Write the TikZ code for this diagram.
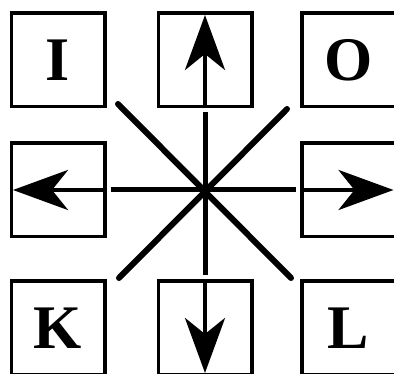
\documentclass[tikz,border=0pt]{standalone}
\usepackage{fontspec}
\setmainfont{Liberation Serif}
\usetikzlibrary{arrows.meta,positioning}
\tikzset{
  key/.style={draw, line width=3.5pt, minimum size=93.5pt, inner sep=0pt,
              font=\fontsize{62}{62}\selectfont\bfseries},
  dirarrow/.style={-{Stealth[length=55pt,width=40pt,inset=16pt]}, line width=4.5pt,
                   shorten >=3.5pt},
  link/.style={line width=5pt, shorten >=4pt},
  diag/.style={line width=6pt, line cap=round}
}

\begin{document}
\begin{tikzpicture}[x=1pt,y=1pt]
  \useasboundingbox (0,0) rectangle (394,374);
  \clip (0,0) rectangle (394,374);

  % key grid
  \node[key] (I)     at (58,314)  {I};
  \node[key] (up)    at (205,314) {};
  \node[key] (O)     at (348.5,314) {O};
  \node[key] (left)  at (58,184)  {};
  \node[key] (right) at (348.5,184) {};
  \node[key] (K)     at (58,46)   {K};
  \node[key] (down)  at (205,46)  {};
  \node[key] (L)     at (348.5,46) {L};

  % centre and diagonal ends
  \coordinate (c)  at (205,184);
  \coordinate (nw) at (118,270);
  \coordinate (se) at (291,96);
  \coordinate (ne) at (287,265);
  \coordinate (sw) at (119,96);

  \draw[diag] (nw) -- (se);
  \draw[diag] (ne) -- (sw);

  \foreach \k in {up,down,left,right}
    \draw[link] (c) -- (\k);

  \draw[dirarrow] (up.south) -- (up.north);
  \draw[dirarrow] (down.north) -- (down.south);
  \draw[dirarrow] (left.east) -- (left.west);
  \draw[dirarrow] (right.west) -- (right.east);
\end{tikzpicture}
\end{document}
